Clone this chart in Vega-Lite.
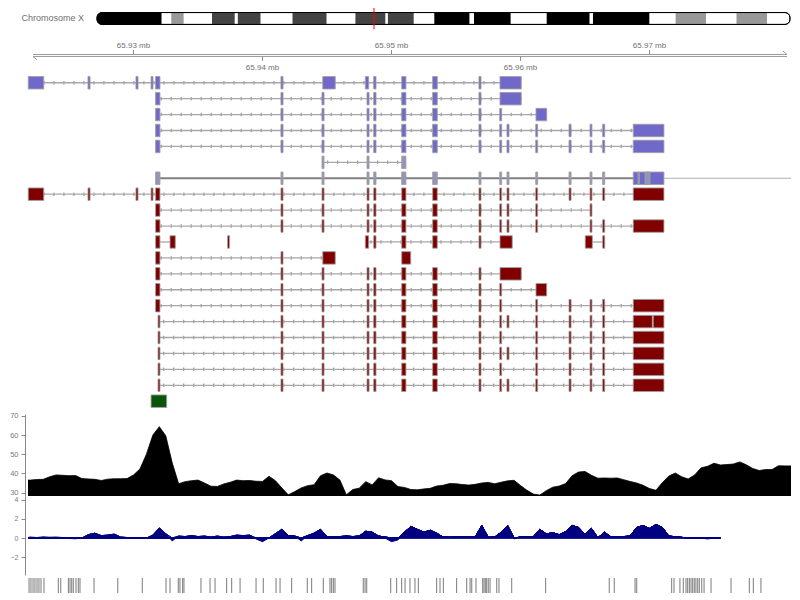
{
  "$schema": "https://vega.github.io/schema/vega-lite/v6.json",
  "background": "white",
  "padding": {"left": 9, "top": 0, "right": 9, "bottom": 0},
  "spacing": 0,
  "bounds": "flush",
  "resolve": {"scale": {"x": "independent", "y": "independent", "color": "independent"}},
  "config": {
    "view": {"stroke": null},
    "font": "Liberation Sans",
    "axis": {"labelFont": "Liberation Sans", "labelFontSize": 7.5, "labelColor": "#7a7a7a", "domainColor": "#8a8a8a", "tickColor": "#8a8a8a", "tickSize": 4, "labelPadding": 3, "offset": 3, "grid": false, "title": null}
  },
  "datasets": {
    "bands": [
      {"s": 0, "e": 14.45, "c": "k"},
      {"s": 16.64, "e": 19.40, "c": "y"},
      {"s": 25.76, "e": 30.84, "c": "d"},
      {"s": 31.54, "e": 36.62, "c": "d"},
      {"s": 43.79, "e": 51.41, "c": "d"},
      {"s": 57.88, "e": 64.58, "c": "d"},
      {"s": 65.16, "e": 70.94, "c": "d"},
      {"s": 75.56, "e": 83.42, "c": "k"},
      {"s": 84.45, "e": 92.65, "c": "k"},
      {"s": 100.73, "e": 110.32, "c": "k"},
      {"s": 111.10, "e": 123.72, "c": "k"},
      {"s": 129.61, "e": 136.42, "c": "y"},
      {"s": 143.25, "e": 150.08, "c": "y"}
    ],
    "ticks": [
      {"p": 65.93, "l": "65.93 mb", "u": 1},
      {"p": 65.94, "l": "65.94 mb", "u": 0},
      {"p": 65.95, "l": "65.95 mb", "u": 1},
      {"p": 65.96, "l": "65.96 mb", "u": 0},
      {"p": 65.97, "l": "65.97 mb", "u": 1}
    ],
    "exdef": [
      {"k": "A", "s": 65.92184, "e": 65.92304},
      {"k": "B", "s": 65.92647, "e": 65.92663},
      {"k": "C", "s": 65.93019, "e": 65.93035},
      {"k": "D", "s": 65.93136, "e": 65.93151},
      {"k": "E", "s": 65.93171, "e": 65.93205},
      {"k": "Et", "s": 65.93190, "e": 65.93205},
      {"k": "F", "s": 65.94143, "e": 65.94159},
      {"k": "G", "s": 65.94461, "e": 65.94477},
      {"k": "Gb", "s": 65.94467, "e": 65.94564},
      {"k": "H", "s": 65.94810, "e": 65.94826},
      {"k": "Hb", "s": 65.94797, "e": 65.94823},
      {"k": "I", "s": 65.94862, "e": 65.94880},
      {"k": "J", "s": 65.95079, "e": 65.95112},
      {"k": "Jb", "s": 65.95079, "e": 65.95149},
      {"k": "K", "s": 65.95319, "e": 65.95355},
      {"k": "L", "s": 65.95678, "e": 65.95694},
      {"k": "M", "s": 65.95839, "e": 65.95854},
      {"k": "Mb", "s": 65.95841, "e": 65.96006},
      {"k": "Mb2", "s": 65.95841, "e": 65.95936},
      {"k": "N", "s": 65.95895, "e": 65.95911},
      {"k": "O", "s": 65.96118, "e": 65.96133},
      {"k": "Ob", "s": 65.96120, "e": 65.96203},
      {"k": "P", "s": 65.96376, "e": 65.96392},
      {"k": "Q", "s": 65.96539, "e": 65.96554},
      {"k": "Qb", "s": 65.96502, "e": 65.96557},
      {"k": "R", "s": 65.96637, "e": 65.96653},
      {"k": "S", "s": 65.96874, "e": 65.97112},
      {"k": "S1", "s": 65.96874, "e": 65.97022},
      {"k": "S2", "s": 65.97029, "e": 65.97112},
      {"k": "T1", "s": 65.93283, "e": 65.93324},
      {"k": "T2", "s": 65.93729, "e": 65.93744},
      {"k": "V1", "s": 65.96911, "e": 65.96922},
      {"k": "V2", "s": 65.96965, "e": 65.97004},
      {"k": "Z", "s": 65.93136, "e": 65.93257}
    ],
    "tx": [
      {"r": 0, "t": "b", "ex": ["A","B","C","D","E","F","Gb","Hb","I","J","K","L","Mb"]},
      {"r": 1, "t": "b", "ex": ["E","F","G","H","I","J","K","L","Mb"]},
      {"r": 2, "t": "b", "ex": ["E","F","G","H","I","J","K","L","M","Ob"]},
      {"r": 3, "t": "b", "ex": ["E","F","G","H","I","J","K","L","M","N","O","P","Q","R","S"]},
      {"r": 4, "t": "b", "ex": ["E","F","G","H","I","J","K","L","M","N","O","P","Q","R","S"]},
      {"r": 5, "t": "g", "ex": ["G","H","J"]},
      {"r": 6, "t": "g", "ex": ["E","F","G","H","I","J","K","L","M","N","O","P","Q","R"]},
      {"r": 6, "t": "b", "ex": ["S"]},
      {"r": 6, "t": "g", "ex": ["V1","V2"]},
      {"r": 7, "t": "r", "ex": ["A","B","C","D","E","F","G","H","I","J","K","L","M","N","O","P","Q","R","S"]},
      {"r": 8, "t": "r", "ex": ["E","F","G","H","I","J","K","L","M","N","O","Q"]},
      {"r": 9, "t": "r", "ex": ["E","F","G","H","I","J","K","L","M","N","O","Q","R","S"]},
      {"r": 10, "t": "r", "ex": ["E","T1","T2","Hb","I","J","K","L","Mb2","Qb","R"]},
      {"r": 11, "t": "r", "ex": ["E","F","Gb","Jb"]},
      {"r": 12, "t": "r", "ex": ["E","F","G","H","I","J","K","L","Mb"]},
      {"r": 13, "t": "r", "ex": ["E","F","G","H","I","J","K","L","M","Ob"]},
      {"r": 14, "t": "r", "ex": ["E","F","G","H","I","J","K","L","M","O","P","Q","R","S"]},
      {"r": 15, "t": "r", "ex": ["Et","F","G","H","I","J","K","L","M","N","O","P","Q","R","S1","S2"]},
      {"r": 16, "t": "r", "ex": ["Et","F","G","H","I","J","K","L","M","O","P","Q","R","S"]},
      {"r": 17, "t": "r", "ex": ["Et","F","G","H","I","J","K","L","M","N","O","P","Q","R","S"]},
      {"r": 18, "t": "r", "ex": ["Et","F","G","H","I","J","K","L","M","O","P","Q","R","S"]},
      {"r": 19, "t": "r", "ex": ["Et","F","G","H","I","J","K","L","M","N","O","P","Q","R","S"]},
      {"r": 20, "t": "n", "ex": ["Z"]}
    ],
    "lines": [
      {"r": 0, "s": 65.92184, "e": 65.96006, "k": "c"},
      {"r": 1, "s": 65.93171, "e": 65.96006, "k": "c"},
      {"r": 2, "s": 65.93171, "e": 65.96203, "k": "c"},
      {"r": 3, "s": 65.93171, "e": 65.97112, "k": "c"},
      {"r": 4, "s": 65.93171, "e": 65.97112, "k": "c"},
      {"r": 5, "s": 65.94461, "e": 65.95112, "k": "c"},
      {"r": 6, "s": 65.93171, "e": 65.97112, "k": "s"},
      {"r": 6, "s": 65.97112, "e": 65.98097, "k": "t"},
      {"r": 7, "s": 65.92184, "e": 65.97112, "k": "c"},
      {"r": 8, "s": 65.93171, "e": 65.96554, "k": "c"},
      {"r": 9, "s": 65.93171, "e": 65.97112, "k": "c"},
      {"r": 10, "s": 65.93171, "e": 65.93324, "k": "p"},
      {"r": 10, "s": 65.94797, "e": 65.95936, "k": "c"},
      {"r": 10, "s": 65.96502, "e": 65.96653, "k": "p"},
      {"r": 11, "s": 65.93171, "e": 65.94564, "k": "c"},
      {"r": 12, "s": 65.93171, "e": 65.96006, "k": "c"},
      {"r": 13, "s": 65.93171, "e": 65.96203, "k": "c"},
      {"r": 14, "s": 65.93171, "e": 65.97112, "k": "c"},
      {"r": 15, "s": 65.93190, "e": 65.97112, "k": "c"},
      {"r": 16, "s": 65.93190, "e": 65.97112, "k": "c"},
      {"r": 17, "s": 65.93190, "e": 65.97112, "k": "c"},
      {"r": 18, "s": 65.93190, "e": 65.97112, "k": "c"},
      {"r": 19, "s": 65.93190, "e": 65.97112, "k": "c"}
    ],
    "cov": [
      {"x": 65.92182, "v": 36.5}, {"x": 65.9220, "v": 36.5}, {"x": 65.9225, "v": 36.8}, {"x": 65.9230, "v": 36.9}, {"x": 65.9235, "v": 38.2},
      {"x": 65.9240, "v": 39.2}, {"x": 65.9245, "v": 39.0}, {"x": 65.9250, "v": 38.8}, {"x": 65.9255, "v": 38.9}, {"x": 65.9260, "v": 37.3},
      {"x": 65.9265, "v": 37.1}, {"x": 65.9270, "v": 36.9}, {"x": 65.9275, "v": 36.3}, {"x": 65.9280, "v": 37.0}, {"x": 65.9285, "v": 37.2},
      {"x": 65.9290, "v": 37.2}, {"x": 65.9295, "v": 37.3}, {"x": 65.9300, "v": 39.2}, {"x": 65.9305, "v": 42.3}, {"x": 65.9310, "v": 50.0},
      {"x": 65.9315, "v": 60.0}, {"x": 65.9320, "v": 64.4}, {"x": 65.9325, "v": 59.6}, {"x": 65.9330, "v": 45.5}, {"x": 65.9335, "v": 34.6},
      {"x": 65.9340, "v": 35.7}, {"x": 65.9345, "v": 36.2}, {"x": 65.9350, "v": 36.5}, {"x": 65.9355, "v": 35.0}, {"x": 65.9360, "v": 33.3},
      {"x": 65.9365, "v": 33.2}, {"x": 65.9370, "v": 34.5}, {"x": 65.9375, "v": 35.4}, {"x": 65.9380, "v": 36.5}, {"x": 65.9385, "v": 36.2},
      {"x": 65.9390, "v": 36.3}, {"x": 65.9395, "v": 35.9}, {"x": 65.9400, "v": 35.8}, {"x": 65.9405, "v": 38.5}, {"x": 65.9410, "v": 36.2},
      {"x": 65.9415, "v": 32.4}, {"x": 65.9420, "v": 28.8}, {"x": 65.9425, "v": 30.5}, {"x": 65.9430, "v": 32.4}, {"x": 65.9435, "v": 33.6},
      {"x": 65.9440, "v": 34.1}, {"x": 65.9445, "v": 38.8}, {"x": 65.9450, "v": 40.2}, {"x": 65.9455, "v": 39.2}, {"x": 65.9460, "v": 36.5},
      {"x": 65.9465, "v": 28.8}, {"x": 65.9470, "v": 31.6}, {"x": 65.9475, "v": 32.3}, {"x": 65.9480, "v": 35.7}, {"x": 65.9485, "v": 34.0},
      {"x": 65.9490, "v": 37.7}, {"x": 65.9495, "v": 36.6}, {"x": 65.9500, "v": 36.2}, {"x": 65.9505, "v": 33.1}, {"x": 65.9510, "v": 32.7},
      {"x": 65.9515, "v": 31.6}, {"x": 65.9520, "v": 31.4}, {"x": 65.9525, "v": 31.9}, {"x": 65.9530, "v": 32.2}, {"x": 65.9535, "v": 33.4},
      {"x": 65.9540, "v": 33.8}, {"x": 65.9545, "v": 34.7}, {"x": 65.9550, "v": 34.6}, {"x": 65.9555, "v": 34.2}, {"x": 65.9560, "v": 33.9},
      {"x": 65.9565, "v": 34.3}, {"x": 65.9570, "v": 35.0}, {"x": 65.9575, "v": 35.3}, {"x": 65.9580, "v": 34.6}, {"x": 65.9585, "v": 35.4},
      {"x": 65.9590, "v": 36.1}, {"x": 65.9595, "v": 36.4}, {"x": 65.9600, "v": 33.7}, {"x": 65.9605, "v": 31.2}, {"x": 65.9610, "v": 29.2},
      {"x": 65.9615, "v": 28.7}, {"x": 65.9620, "v": 31.0}, {"x": 65.9625, "v": 32.8}, {"x": 65.9630, "v": 33.4}, {"x": 65.9635, "v": 34.7},
      {"x": 65.9640, "v": 38.8}, {"x": 65.9645, "v": 40.7}, {"x": 65.9650, "v": 41.0}, {"x": 65.9655, "v": 39.0}, {"x": 65.9660, "v": 37.5},
      {"x": 65.9665, "v": 37.6}, {"x": 65.9670, "v": 37.5}, {"x": 65.9675, "v": 37.6}, {"x": 65.9680, "v": 36.7}, {"x": 65.9685, "v": 35.8},
      {"x": 65.9690, "v": 35.0}, {"x": 65.9695, "v": 33.8}, {"x": 65.9700, "v": 32.1}, {"x": 65.9705, "v": 31.2}, {"x": 65.9710, "v": 35.2},
      {"x": 65.9715, "v": 38.6}, {"x": 65.9720, "v": 40.2}, {"x": 65.9725, "v": 38.2}, {"x": 65.9730, "v": 37.1}, {"x": 65.9735, "v": 39.2},
      {"x": 65.9740, "v": 42.9}, {"x": 65.9745, "v": 43.7}, {"x": 65.9750, "v": 45.3}, {"x": 65.9755, "v": 44.4}, {"x": 65.9760, "v": 44.6},
      {"x": 65.9765, "v": 44.9}, {"x": 65.9770, "v": 46.0}, {"x": 65.9775, "v": 44.5}, {"x": 65.9780, "v": 42.6}, {"x": 65.9785, "v": 41.5},
      {"x": 65.9790, "v": 42.0}, {"x": 65.9795, "v": 42.0}, {"x": 65.9800, "v": 44.0}, {"x": 65.9805, "v": 43.9}, {"x": 65.98097, "v": 43.9}
    ],
    "sig": [
      {"x": 65.92182, "v": 0.05, "g": 1}, {"x": 65.9220, "v": 0.1, "g": 1}, {"x": 65.9225, "v": 0.05, "g": 1}, {"x": 65.9230, "v": 0.12, "g": 1}, {"x": 65.9235, "v": 0.08, "g": 1}, {"x": 65.9240, "v": 0.1, "g": 1}, {"x": 65.9245, "v": 0.05, "g": 1},
      {"x": 65.9250, "v": -0.05, "g": 2}, {"x": 65.9255, "v": -0.08, "g": 2}, {"x": 65.9260, "v": 0.0, "g": 2}, {"x": 65.9265, "v": 0.35, "g": 2}, {"x": 65.9270, "v": 0.5, "g": 2}, {"x": 65.9275, "v": 0.25, "g": 2},
      {"x": 65.9280, "v": 0.3, "g": 2}, {"x": 65.9285, "v": 0.4, "g": 2}, {"x": 65.9290, "v": 0.1, "g": 2}, {"x": 65.9295, "v": 0.05, "g": 2}, {"x": 65.9300, "v": 0.0, "g": 2}, {"x": 65.9305, "v": 0.05, "g": 2},
      {"x": 65.9310, "v": -0.05, "g": 2}, {"x": 65.9315, "v": 0.3, "g": 2}, {"x": 65.9320, "v": 1.05, "g": 2}, {"x": 65.9325, "v": 0.45, "g": 2}, {"x": 65.9330, "v": -0.3, "g": 2}, {"x": 65.9335, "v": 0.2, "g": 2},
      {"x": 65.9340, "v": 0.15, "g": 2}, {"x": 65.9345, "v": 0.25, "g": 2}, {"x": 65.9350, "v": 0.15, "g": 2}, {"x": 65.9355, "v": 0.2, "g": 2}, {"x": 65.9360, "v": 0.1, "g": 2}, {"x": 65.9365, "v": 0.2, "g": 2},
      {"x": 65.9370, "v": 0.1, "g": 2}, {"x": 65.9375, "v": 0.15, "g": 2}, {"x": 65.9380, "v": 0.3, "g": 2}, {"x": 65.9385, "v": 0.25, "g": 2}, {"x": 65.9390, "v": 0.3, "g": 2}, {"x": 65.9395, "v": -0.1, "g": 2},
      {"x": 65.9400, "v": -0.38, "g": 2}, {"x": 65.9405, "v": 0.0, "g": 2},
      {"x": 65.9415, "v": 0.9, "g": 3}, {"x": 65.9420, "v": 0.25, "g": 3}, {"x": 65.9425, "v": 0.2, "g": 3}, {"x": 65.9430, "v": -0.3, "g": 3}, {"x": 65.9435, "v": 0.25, "g": 3}, {"x": 65.9440, "v": 0.5, "g": 3},
      {"x": 65.9445, "v": 0.9, "g": 3}, {"x": 65.9450, "v": 0.15, "g": 3},
      {"x": 65.9460, "v": 0.15, "g": 4}, {"x": 65.9465, "v": 0.2, "g": 4}, {"x": 65.9470, "v": 0.15, "g": 4}, {"x": 65.9475, "v": 0.2, "g": 4}, {"x": 65.9480, "v": 0.7, "g": 4}, {"x": 65.9485, "v": 0.6, "g": 4},
      {"x": 65.9490, "v": 0.2, "g": 4}, {"x": 65.9495, "v": 0.1, "g": 4},
      {"x": 65.9500, "v": -0.38, "g": 5}, {"x": 65.9505, "v": -0.2, "g": 5}, {"x": 65.9510, "v": 0.6, "g": 5}, {"x": 65.9515, "v": 1.2, "g": 5}, {"x": 65.9520, "v": 0.9, "g": 5}, {"x": 65.9525, "v": 0.6, "g": 5},
      {"x": 65.9530, "v": 0.8, "g": 5}, {"x": 65.9535, "v": 0.5, "g": 5}, {"x": 65.9540, "v": 0.1, "g": 5}, {"x": 65.9545, "v": 0.08, "g": 5}, {"x": 65.9550, "v": 0.1, "g": 5}, {"x": 65.9555, "v": 0.12, "g": 5},
      {"x": 65.9560, "v": 0.1, "g": 5}, {"x": 65.9565, "v": 0.15, "g": 5}, {"x": 65.9570, "v": 1.3, "g": 5}, {"x": 65.9575, "v": 0.07, "g": 5}, {"x": 65.9580, "v": 0.1, "g": 5}, {"x": 65.9585, "v": 0.6, "g": 5},
      {"x": 65.9590, "v": 1.3, "g": 5}, {"x": 65.9595, "v": -0.1, "g": 5}, {"x": 65.9600, "v": 0.1, "g": 5}, {"x": 65.9605, "v": 0.1, "g": 5}, {"x": 65.9610, "v": 0.15, "g": 5}, {"x": 65.9615, "v": 0.9, "g": 5},
      {"x": 65.9620, "v": 0.42, "g": 5}, {"x": 65.9625, "v": 0.55, "g": 5}, {"x": 65.9630, "v": 0.35, "g": 5}, {"x": 65.9635, "v": 0.66, "g": 5}, {"x": 65.9640, "v": 1.3, "g": 5}, {"x": 65.9645, "v": 1.1, "g": 5},
      {"x": 65.9650, "v": 0.4, "g": 5}, {"x": 65.9655, "v": 1.0, "g": 5}, {"x": 65.9660, "v": 0.03, "g": 5}, {"x": 65.9665, "v": 0.6, "g": 5}, {"x": 65.9670, "v": 0.14, "g": 5}, {"x": 65.9675, "v": 0.12, "g": 5},
      {"x": 65.9680, "v": 0.15, "g": 5}, {"x": 65.9685, "v": 0.2, "g": 5}, {"x": 65.9690, "v": 1.1, "g": 5}, {"x": 65.9695, "v": 1.3, "g": 5}, {"x": 65.9700, "v": 1.0, "g": 5}, {"x": 65.9705, "v": 1.4, "g": 5},
      {"x": 65.9710, "v": 1.1, "g": 5}, {"x": 65.9715, "v": 0.2, "g": 5},
      {"x": 65.9730, "v": 0.0, "g": 6}, {"x": 65.9735, "v": -0.05, "g": 6}, {"x": 65.9740, "v": 0.0, "g": 6}, {"x": 65.9745, "v": -0.1, "g": 6}, {"x": 65.9750, "v": 0.0, "g": 6}, {"x": 65.9755, "v": -0.05, "g": 6}
    ],
    "snp": [
      {"x": 65.92190}, {"x": 65.92205}, {"x": 65.92221}, {"x": 65.92236}, {"x": 65.92252}, {"x": 65.92267}, {"x": 65.92283}, {"x": 65.92306},
      {"x": 65.92417}, {"x": 65.92436}, {"x": 65.92495}, {"x": 65.92508}, {"x": 65.92521}, {"x": 65.92533}, {"x": 65.92554}, {"x": 65.92572},
      {"x": 65.92585}, {"x": 65.92694}, {"x": 65.92878}, {"x": 65.93068}, {"x": 65.93252}, {"x": 65.93283}, {"x": 65.93347}, {"x": 65.93360},
      {"x": 65.93381}, {"x": 65.93391}, {"x": 65.93523}, {"x": 65.93593}, {"x": 65.93632}, {"x": 65.93722}, {"x": 65.93761}, {"x": 65.93826},
      {"x": 65.93950}, {"x": 65.94006}, {"x": 65.94105}, {"x": 65.94136}, {"x": 65.94226}, {"x": 65.94347}, {"x": 65.94381}, {"x": 65.94471},
      {"x": 65.94523}, {"x": 65.94536}, {"x": 65.94549}, {"x": 65.94562}, {"x": 65.94781}, {"x": 65.94795}, {"x": 65.94808}, {"x": 65.94994},
      {"x": 65.95040}, {"x": 65.95079}, {"x": 65.95105}, {"x": 65.95143}, {"x": 65.95182}, {"x": 65.95208}, {"x": 65.95350}, {"x": 65.95376},
      {"x": 65.95402}, {"x": 65.95505}, {"x": 65.95583}, {"x": 65.95609}, {"x": 65.95622}, {"x": 65.95655}, {"x": 65.95707}, {"x": 65.95717},
      {"x": 65.95727}, {"x": 65.95738}, {"x": 65.95750}, {"x": 65.95764}, {"x": 65.95816}, {"x": 65.95833}, {"x": 65.95932}, {"x": 65.96195},
      {"x": 65.96688}, {"x": 65.96727}, {"x": 65.96888}, {"x": 65.96901}, {"x": 65.97172}, {"x": 65.97190}, {"x": 65.97236}, {"x": 65.97262},
      {"x": 65.97283}, {"x": 65.97296}, {"x": 65.97309}, {"x": 65.97322}, {"x": 65.97335}, {"x": 65.97347}, {"x": 65.97360}, {"x": 65.97374},
      {"x": 65.97386}, {"x": 65.97405}, {"x": 65.97423}, {"x": 65.97477}, {"x": 65.97632}, {"x": 65.97774}, {"x": 65.97805}, {"x": 65.97864}
    ]
  },
  "vconcat": [
    {
      "width": 763,
      "height": 33,
      "data": {"values": [{}]},
      "encoding": {
        "x": {"type": "quantitative", "scale": {"domain": [-15.46, 155.46], "nice": false, "zero": false}, "axis": null},
        "y": {"type": "quantitative", "scale": {"domain": [-0.879, 1.121], "nice": false, "zero": false}, "axis": null}
      },
      "layer": [
        {"mark": {"type": "rect", "fill": "white", "stroke": "black", "strokeWidth": 1, "cornerRadius": 5},
         "encoding": {"x": {"datum": 0}, "x2": {"datum": 155.23}, "y": {"datum": -0.36}, "y2": {"datum": 0.36}}},
        {"data": {"name": "bands"}, "transform": [{"filter": "datum.s > 0"}],
         "mark": {"type": "rect"},
         "encoding": {"x": {"field": "s", "type": "quantitative"}, "x2": {"field": "e"}, "y": {"datum": -0.36}, "y2": {"datum": 0.36},
           "color": {"field": "c", "type": "nominal", "scale": {"domain": ["k", "d", "y"], "range": ["#000000", "#444444", "#999999"]}, "legend": null}}},
        {"data": {"name": "bands"}, "transform": [{"filter": "datum.s == 0"}],
         "mark": {"type": "rect", "color": "black", "cornerRadiusTopLeft": 5, "cornerRadiusBottomLeft": 5},
         "encoding": {"x": {"field": "s", "type": "quantitative"}, "x2": {"field": "e"}, "y": {"datum": -0.36}, "y2": {"datum": 0.36}}},
        {"mark": {"type": "rect", "fillOpacity": 0, "fill": "white", "stroke": "black", "strokeWidth": 1, "cornerRadius": 5},
         "encoding": {"x": {"datum": 0}, "x2": {"datum": 155.23}, "y": {"datum": -0.36}, "y2": {"datum": 0.36}}},
        {"mark": {"type": "rule", "color": "#ff0000", "strokeWidth": 1},
         "encoding": {"x": {"datum": 62.05}, "y": {"datum": -0.655}, "y2": {"datum": 0.636}}},
        {"mark": {"type": "text", "text": "Chromosome X", "align": "right", "baseline": "middle", "fontSize": 9, "color": "#707070", "font": "Liberation Sans"},
         "encoding": {"x": {"datum": -2.91}, "y": {"datum": 0}}}
      ]
    },
    {
      "width": 763,
      "height": 381,
      "encoding": {
        "x": {"type": "quantitative", "scale": {"domain": [65.92182, 65.98097], "nice": false, "zero": false}, "axis": null},
        "y": {"type": "quantitative", "scale": {"domain": [-2.81, 20.49], "reverse": true, "nice": false, "zero": false}, "axis": null}
      },
      "layer": [
        {"data": {"name": "lines"}, "transform": [{"filter": "datum.k == 'c' || datum.k == 'p'"}],
         "mark": {"type": "rule", "color": "#a8a8a8", "strokeWidth": 1.3},
         "encoding": {"x": {"field": "s"}, "x2": {"field": "e"}, "y": {"field": "r"}}},
        {"data": {"name": "lines"}, "transform": [{"filter": "datum.k == 'c'"}],
         "mark": {"type": "rule", "color": "#a4a4a4", "strokeWidth": 3.5, "strokeDash": [1.3, 8.7], "strokeDashOffset": -5},
         "encoding": {"x": {"field": "s"}, "x2": {"field": "e"}, "y": {"field": "r"}}},
        {"data": {"name": "lines"}, "transform": [{"filter": "datum.k == 's'"}],
         "mark": {"type": "rule", "color": "#808080", "strokeWidth": 2},
         "encoding": {"x": {"field": "s"}, "x2": {"field": "e"}, "y": {"field": "r"}}},
        {"data": {"name": "lines"}, "transform": [{"filter": "datum.k == 't'"}],
         "mark": {"type": "rule", "color": "#b0b0b0", "strokeWidth": 1},
         "encoding": {"x": {"field": "s"}, "x2": {"field": "e"}, "y": {"field": "r"}}},
        {"data": {"name": "tx"},
         "transform": [{"flatten": ["ex"], "as": ["k"]}, {"lookup": "k", "from": {"data": {"name": "exdef"}, "key": "k", "fields": ["s", "e"]}}],
         "mark": {"type": "bar", "orient": "horizontal", "height": 12.5, "stroke": "#a0a0a0", "strokeWidth": 1, "strokeOpacity": 0.85},
         "encoding": {"x": {"field": "s"}, "x2": {"field": "e"}, "y": {"field": "r"},
           "color": {"field": "t", "type": "nominal", "scale": {"domain": ["b", "g", "r", "n"], "range": ["#7169ca", "#9494b8", "#800000", "#0b540b"]}, "legend": null}}},
        {"data": {"values": [{}]}, "mark": {"type": "rule", "color": "#9a9a9a", "strokeWidth": 1},
         "encoding": {"x": {"datum": 65.92221}, "x2": {"datum": 65.98066}, "y": {"datum": -1.774}}},
        {"data": {"values": [{}]}, "mark": {"type": "rule", "color": "#9a9a9a", "strokeWidth": 1},
         "encoding": {"x": {"datum": 65.92221}, "x2": {"datum": 65.98066}, "y": {"datum": -1.651}}},
        {"data": {"values": [{}]}, "mark": {"type": "rule", "color": "#9a9a9a", "strokeWidth": 1},
         "encoding": {"x": {"datum": 65.92221}, "x2": {"datum": 65.92252}, "y": {"datum": -1.651}, "y2": {"datum": -1.437}}},
        {"data": {"values": [{}]}, "mark": {"type": "rule", "color": "#9a9a9a", "strokeWidth": 1},
         "encoding": {"x": {"datum": 65.98066}, "x2": {"datum": 65.98035}, "y": {"datum": -1.774}, "y2": {"datum": -1.988}}},
        {"data": {"name": "ticks"}, "transform": [{"filter": "datum.u == 1"}],
         "mark": {"type": "rule", "color": "#8a8a8a", "strokeWidth": 1},
         "encoding": {"x": {"field": "p"}, "y": {"datum": -2.049}, "y2": {"datum": -1.774}}},
        {"data": {"name": "ticks"}, "transform": [{"filter": "datum.u == 0"}],
         "mark": {"type": "rule", "color": "#8a8a8a", "strokeWidth": 1},
         "encoding": {"x": {"field": "p"}, "y": {"datum": -1.651}, "y2": {"datum": -1.376}}},
        {"data": {"name": "ticks"}, "transform": [{"filter": "datum.u == 1"}],
         "mark": {"type": "text", "fontSize": 8, "color": "#707070", "baseline": "middle", "font": "Liberation Sans"},
         "encoding": {"x": {"field": "p"}, "y": {"datum": -2.294}, "text": {"field": "l"}}},
        {"data": {"name": "ticks"}, "transform": [{"filter": "datum.u == 0"}],
         "mark": {"type": "text", "fontSize": 8, "color": "#707070", "baseline": "middle", "font": "Liberation Sans"},
         "encoding": {"x": {"field": "p"}, "y": {"datum": -0.948}, "text": {"field": "l"}}}
      ]
    },
    {
      "width": 763,
      "height": 82,
      "data": {"name": "cov"},
      "mark": {"type": "area", "color": "black", "stroke": "black", "strokeWidth": 0.8, "clip": true},
      "encoding": {
        "x": {"field": "x", "type": "quantitative", "scale": {"domain": [65.92182, 65.98097], "nice": false, "zero": false}, "axis": null},
        "y": {"field": "v", "type": "quantitative", "scale": {"domain": [28.2, 71], "nice": false, "zero": false}, "axis": {"values": [30, 40, 50, 60, 70]}}
      }
    },
    {
      "width": 763,
      "height": 79,
      "data": {"name": "sig"},
      "mark": {"type": "area", "color": "#000080", "stroke": "#000080", "strokeWidth": 1, "clip": true},
      "encoding": {
        "x": {"field": "x", "type": "quantitative", "scale": {"domain": [65.92182, 65.98097], "nice": false, "zero": false}, "axis": null},
        "y": {"field": "v", "type": "quantitative", "scale": {"domain": [-3.854, 4.375], "nice": false, "zero": false}, "axis": {"values": [-2, 0, 2, 4], "labelFontSize": 7}},
        "detail": {"field": "g", "type": "nominal"}
      }
    },
    {
      "width": 763,
      "height": 25,
      "data": {"name": "snp"},
      "mark": {"type": "rule", "color": "#7a7a7a", "strokeWidth": 1},
      "encoding": {
        "x": {"field": "x", "type": "quantitative", "scale": {"domain": [65.92182, 65.98097], "nice": false, "zero": false}, "axis": null},
        "y": {"datum": 0.28, "scale": {"domain": [0, 1], "nice": false, "zero": false}, "axis": null},
        "y2": {"datum": 0.88}
      }
    }
  ]
}
